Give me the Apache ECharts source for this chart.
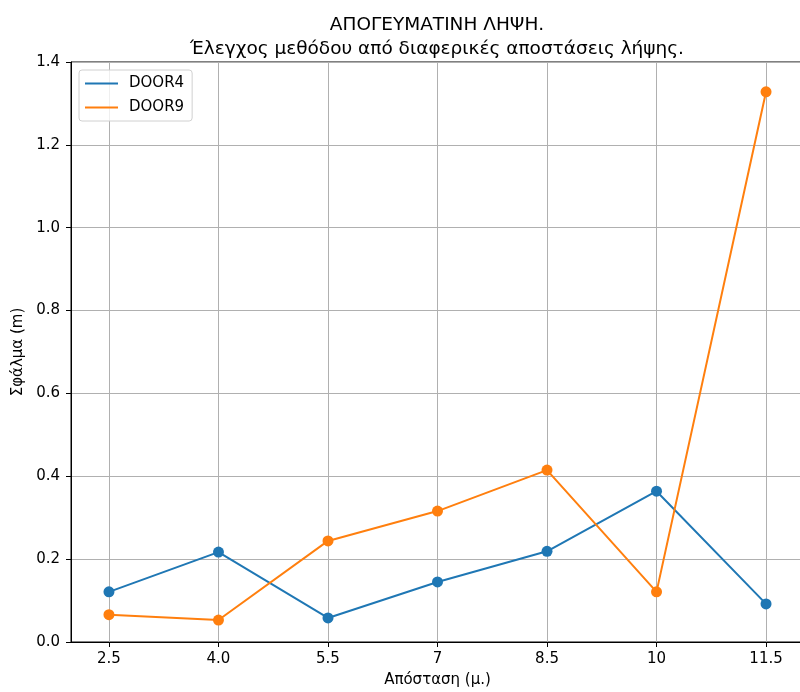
<!DOCTYPE html>
<html>
<head>
<meta charset="utf-8">
<script src="https://cdn.jsdelivr.net/npm/echarts@6/dist/echarts.min.js"></script>
<style>
  html, body { margin: 0; padding: 0; background: #fff; }
  #chart { width: 800px; height: 692px; }
</style>
</head>
<body>
<div id="chart"></div>
<script>
// distances (x) and tick labels as printed on the axis
var distances = [2.5, 4.0, 5.5, 7, 8.5, 10, 11.5];
var xTickLabels = ['2.5', '4.0', '5.5', '7', '8.5', '10', '11.5'];

// error values
var door4 = [0.121, 0.217, 0.058, 0.145, 0.219, 0.364, 0.092];
var door9 = [0.066, 0.053, 0.244, 0.316, 0.415, 0.121, 1.328];

var font = 'DejaVu Sans';

function pairs(vals) {
  return distances.map(function (d, i) { return [d, vals[i]]; });
}

var chart = echarts.init(document.getElementById('chart'));
chart.setOption({
  animation: false,
  textStyle: { fontFamily: font },
  color: ['#1f77b4', '#ff7f0e'],
  title: {
    text: 'ΑΠΟΓΕΥΜΑΤΙΝΗ ΛΗΨΗ.\nΈλεγχος μεθόδου από διαφερικές αποστάσεις λήψης.',
    left: 437,
    top: 13,
    padding: 0,
    textAlign: 'center',
    textStyle: { fontFamily: font, fontSize: 18.5, fontWeight: 'normal', color: '#000', lineHeight: 24 }
  },
  legend: {
    left: 79,
    top: 70,
    orient: 'vertical',
    icon: 'rect',
    itemWidth: 33,
    itemHeight: 2,
    itemGap: 9,
    padding: [6, 8, 6, 6],
    backgroundColor: 'rgba(255,255,255,0.8)',
    borderColor: '#d0d0d0',
    borderWidth: 1,
    borderRadius: 3,
    textStyle: { fontFamily: font, fontSize: 15, color: '#000', padding: [0, 0, 0, 6] },
    data: ['DOOR4', 'DOOR9']
  },
  grid: {
    left: 71, right: -4, top: 62, bottom: 50,
    outerBoundsMode: 'none',
    show: true, borderColor: '#000', borderWidth: 1
  },
  xAxis: {
    type: 'value',
    min: 1.98,
    max: 12.02,
    name: 'Απόσταση (μ.)',
    nameLocation: 'middle',
    nameGap: 31,
    nameTextStyle: { fontFamily: font, fontSize: 15, color: '#000' },
    axisLine: { show: true, lineStyle: { color: '#000', width: 1 } },
    axisTick: { show: true, customValues: distances, length: 5, lineStyle: { color: '#000' } },
    axisLabel: {
      customValues: distances,
      fontFamily: font, fontSize: 15, color: '#000', margin: 10,
      formatter: function (v) {
        var i = distances.indexOf(v);
        return i >= 0 ? xTickLabels[i] : '';
      }
    },
    splitLine: { show: true, lineStyle: { color: '#b0b0b0', width: 1 } }
  },
  yAxis: {
    type: 'value',
    min: 0,
    max: 1.4,
    interval: 0.2,
    name: 'Σφάλμα (m)',
    nameLocation: 'middle',
    nameGap: 38,
    nameTextStyle: { fontFamily: font, fontSize: 15, color: '#000' },
    axisLine: { show: true, lineStyle: { color: '#000', width: 1 } },
    axisTick: { show: true, length: 5, lineStyle: { color: '#000' } },
    axisLabel: {
      fontFamily: font, fontSize: 15, color: '#000', margin: 11,
      formatter: function (v) { return v.toFixed(1); }
    },
    splitLine: { show: true, lineStyle: { color: '#b0b0b0', width: 1 } }
  },
  series: [
    {
      name: 'DOOR4',
      type: 'line',
      data: pairs(door4),
      symbol: 'circle',
      symbolSize: 11,
      lineStyle: { width: 2 },
      itemStyle: { color: '#1f77b4' }
    },
    {
      name: 'DOOR9',
      type: 'line',
      data: pairs(door9),
      symbol: 'circle',
      symbolSize: 11,
      lineStyle: { width: 2 },
      itemStyle: { color: '#ff7f0e' }
    }
  ]
});
</script>
</body>
</html>
